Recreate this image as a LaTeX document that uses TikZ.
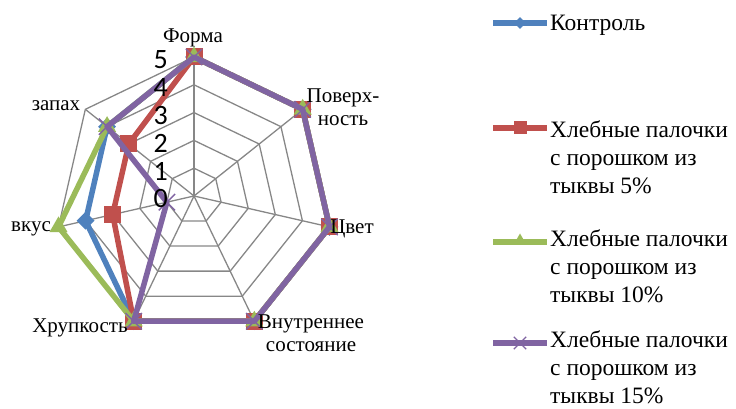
\documentclass[tikz,border=0pt]{standalone}
\usepackage{fontspec}
\setmainfont{Liberation Serif}
\newfontfamily\numfont{Carlito}
\usetikzlibrary{shapes.geometric,shapes.misc}

\definecolor{serA}{HTML}{4F81BD}
\definecolor{serB}{HTML}{C0504D}
\definecolor{serC}{HTML}{9BBB59}
\definecolor{serD}{HTML}{8064A2}
\definecolor{gridc}{HTML}{878787}

\tikzset{
  gridline/.style={draw=gridc, line width=1.3pt},
  serline/.style={line width=5.5pt, line join=round, line cap=round},
  markA/.style={diamond, fill=serA, inner sep=0pt, minimum size=18pt},
  markB/.style={rectangle, fill=serB, inner sep=0pt, minimum size=17pt},
  markC/.style={regular polygon, regular polygon sides=3, fill=serC, inner sep=0pt, minimum size=21pt},
  markD/.style={cross out, draw=serD, line width=1.4pt, inner sep=0pt, minimum size=15pt},
  axlabel/.style={font=\fontsize{21}{23}\selectfont, inner sep=0pt, align=center},
  numlabel/.style={font=\numfont\fontsize{28}{28}\selectfont, inner sep=0pt, anchor=east},
  legtext/.style={font=\fontsize{23.5}{28}\selectfont, inner sep=0pt, anchor=base west},
}

\newcommand\legbox[1]{\vtop{\baselineskip=28pt #1}}

\begin{document}
\begin{tikzpicture}[x=1pt,y=1pt]
\useasboundingbox (0,0) rectangle (736,409);

\begin{scope}[shift={(194,213)}]
  % rings and spokes of the radar grid
  \foreach \r in {1,...,5}
    \draw[gridline] (90:\r*27.8) \foreach \k in {1,...,6} { -- ({90-\k*360/7}:\r*27.8) } -- cycle;
  \foreach \k in {0,...,6}
    \draw[gridline] (0,0) -- ({90-\k*360/7}:139);

  % data points of the four series
  \foreach \v [count=\k from 0] in {5,5,5,5,5,4,4}
    \coordinate (A\k) at ({90-\k*360/7}:\v*27.8);
  \foreach \v [count=\k from 0] in {5,5,5,5,5,3,3}
    \coordinate (B\k) at ({90-\k*360/7}:\v*27.8);
  \foreach \v [count=\k from 0] in {5,5,5,5,5,5,4}
    \coordinate (C\k) at ({90-\k*360/7}:\v*27.8);
  \foreach \v [count=\k from 0] in {5,5,5,5,5,1,4}
    \coordinate (D\k) at ({90-\k*360/7}:\v*27.8);

  \draw[serline, serA] (A0) -- (A1) -- (A2) -- (A3) -- (A4) -- (A5) -- (A6) -- cycle;
  \foreach \k in {0,...,6} \node[markA] (mA\k) at (A\k) {};
  \draw[serline, serB] (B0) -- (B1) -- (B2) -- (B3) -- (B4) -- (B5) -- (B6) -- cycle;
  \foreach \k in {0,...,6} \node[markB] (mB\k) at (B\k) {};
  \draw[serline, serC] (C0) -- (C1) -- (C2) -- (C3) -- (C4) -- (C5) -- (C6) -- cycle;
  \foreach \k in {0,...,6} \node[markC] (mC\k) at (C\k) {};
  \draw[serline, serD] (D0) -- (D1) -- (D2) -- (D3) -- (D4) -- (D5) -- (D6) -- cycle;
  \foreach \k in {0,...,6} \node[markD] (mD\k) at (D\k) {};

  % value scale along the top axis
  \foreach \n in {0,...,5}
    \node[numlabel] (n\n) at (-26,{\n*27.8-3}) {\n};
\end{scope}

% axis captions
\node[axlabel] (forma) at (193,371) {Форма};
\node[axlabel] (pov) at (343,302) {Поверх-\\ность};
\node[axlabel] (cvet) at (352,180) {Цвет};
\node[axlabel] (vnutr) at (311,76) {Внутреннее\\состояние};
\node[axlabel] (hrup) at (80,81) {Хрупкость};
\node[axlabel] (vkus) at (31,180) {вкус};
\node[axlabel] (zapah) at (56,303) {запах};

% legend
\coordinate (lAa) at (493,386); \coordinate (lAb) at (547,386);
\draw[serline, serA, line cap=butt] (lAa) -- (lAb);
\node[markA, minimum size=12pt] (lmA) at (520,386) {};
\node[legtext] (ltA) at (550,378) {\legbox{\hbox{Контроль}}};

\coordinate (lBa) at (493,281); \coordinate (lBb) at (547,281);
\draw[serline, serB, line cap=butt] (lBa) -- (lBb);
\node[markB, minimum size=13pt] (lmB) at (520,281) {};
\node[legtext] (ltB) at (550,271) {\legbox{\hbox{Хлебные палочки}\hbox{с порошком из}\hbox{тыквы 5\%}}};

\coordinate (lCa) at (493,167); \coordinate (lCb) at (547,167);
\draw[serline, serC, line cap=butt] (lCa) -- (lCb);
\node[markC, minimum size=15pt] (lmC) at (520,168) {};
\node[legtext] (ltC) at (550,162) {\legbox{\hbox{Хлебные палочки}\hbox{с порошком из}\hbox{тыквы 10\%}}};

\coordinate (lDa) at (493,66); \coordinate (lDb) at (547,66);
\draw[serline, serD, line cap=butt] (lDa) -- (lDb);
\node[markD, minimum size=11pt] (lmD) at (520,66) {};
\node[legtext] (ltD) at (550,61) {\legbox{\hbox{Хлебные палочки}\hbox{с порошком из}\hbox{тыквы 15\%}}};
\end{tikzpicture}
\end{document}
